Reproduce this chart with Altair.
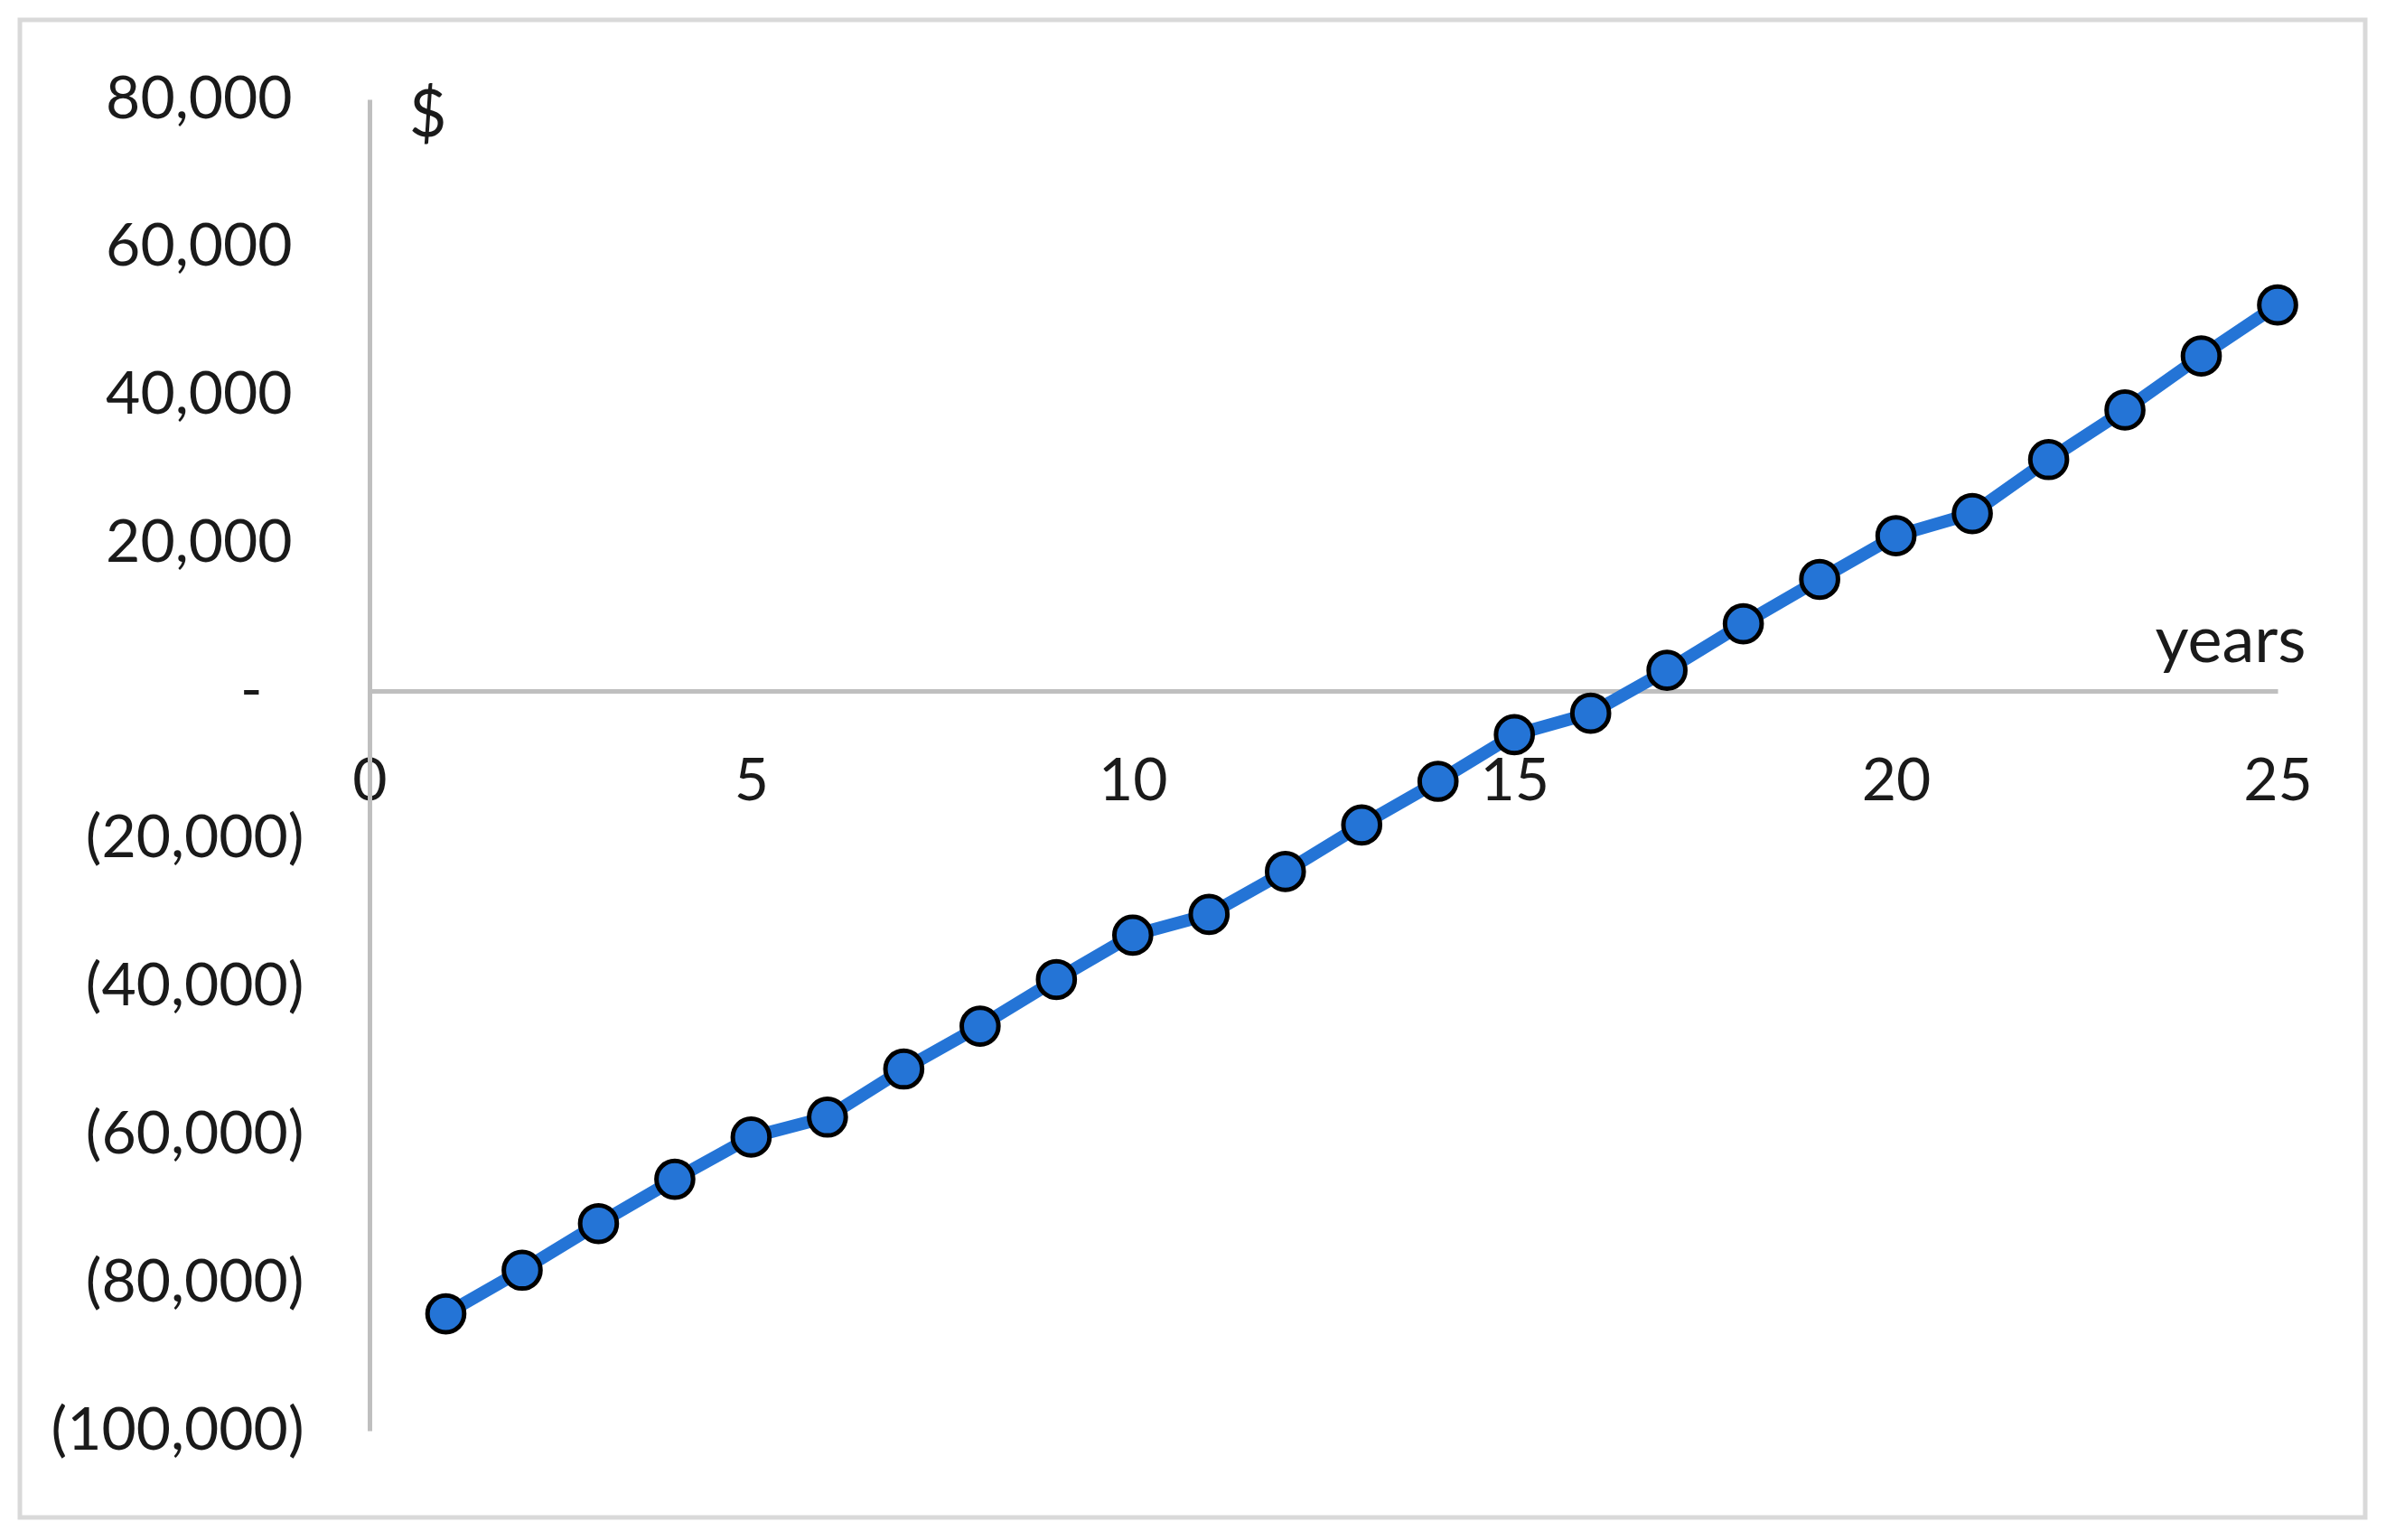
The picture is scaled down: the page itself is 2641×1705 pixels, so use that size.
import altair as alt
import pandas as pd

years = list(range(1, 26))
values = [-84200, -78300, -72000, -66000, -60300, -57600, -51100, -45300,
          -39000, -33000, -30200, -24400, -18100, -12200, -5900, -3000,
          2800, 9100, 15100, 21000, 24000, 31300, 38000, 45300, 52200]
y_ticks = [-100000, -80000, -60000, -40000, -20000, 0, 20000, 40000, 60000, 80000]
x_ticks = [0, 5, 10, 15, 20, 25]

df = pd.DataFrame({"year": years, "value": values})

W, H = 2112, 1474
Y_MIN, Y_MAX = -100000, 80000
zero_offset = -(H - H * (Y_MAX - 0) / (Y_MAX - Y_MIN))

BLUE = "#2474D6"
AXIS_GRAY = "#BFBFBF"
FONT = "Lato"

y_label_expr = (
    "datum.value > 0 ? format(datum.value, ',') : "
    "(datum.value < 0 ? '(' + format(-datum.value, ',') + ')' : '-')"
)

x_enc = alt.X(
    "year:Q",
    scale=alt.Scale(domain=[0, 25], nice=False, zero=False),
    axis=alt.Axis(
        values=x_ticks, ticks=False, grid=False, labelFlush=False, labelLimit=0,
        labelFontSize=66, labelPadding=68, labelColor="#1a1a1a", labelFont=FONT,
        domainColor=AXIS_GRAY, domainWidth=5, offset=zero_offset,
        title="years", titleFontSize=72, titleFontWeight="normal", titleFont=FONT,
        titleColor="#1a1a1a", titleAngle=0, titleAlign="right",
        titleBaseline="alphabetic", titleX=2143, titleY=-33, titleLimit=0,
    ),
)
y_enc = alt.Y(
    "value:Q",
    scale=alt.Scale(domain=[Y_MIN, Y_MAX], nice=False, zero=False),
    axis=alt.Axis(
        values=y_ticks, ticks=False, grid=False, labelExpr=y_label_expr, labelLimit=0,
        labelFontSize=66, labelColor="#1a1a1a", labelFont=FONT,
        labelPadding={
            "condition": [
                {"test": "datum.value > 0", "value": 86},
                {"test": "datum.value == 0", "value": 119},
            ],
            "value": 73,
        },
        labelAlign="right", labelBaseline="middle",
        domainColor=AXIS_GRAY, domainWidth=5,
        title="$", titleFontSize=72, titleFontWeight="normal", titleFont=FONT,
        titleColor="#1a1a1a", titleAngle=0, titleAlign="center",
        titleBaseline="alphabetic", titleX=64, titleY=40,
    ),
)

base = alt.Chart(df)
line = base.mark_line(color=BLUE, strokeWidth=14).encode(x=x_enc, y=y_enc)
points = base.mark_point(
    filled=True, shape="circle", size=1650, fill=BLUE, stroke="black",
    strokeWidth=5, opacity=1, fillOpacity=1,
).encode(x=x_enc, y=y_enc)

border = alt.Chart(pd.DataFrame({"a": [0]})).mark_rect(
    fill=None, stroke="#D9D9D9", strokeWidth=5
).encode(
    x=alt.value(-387), x2=alt.value(2209),
    y=alt.value(-88), y2=alt.value(1570),
)

chart = alt.layer(border, line, points).properties(
    width=W, height=H,
    autosize=alt.AutoSizeParams(type="none"),
    padding={"left": 401, "top": 102, "right": 110, "bottom": 110},
    background="white",
).configure(font=FONT).configure_view(strokeWidth=0, stroke=None)

chart.save("out.html", embed_options={"renderer": "svg", "actions": False})
